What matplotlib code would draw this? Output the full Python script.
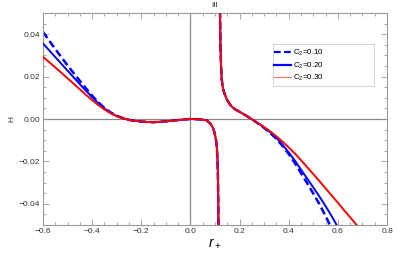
import matplotlib.pyplot as plt
from matplotlib.lines import Line2D
from matplotlib.patches import Rectangle
from matplotlib.ticker import MultipleLocator

plt.rcParams["font.family"] = ["Liberation Sans", "DejaVu Sans"]
plt.rcParams["mathtext.fontset"] = "custom"
plt.rcParams["mathtext.rm"] = "Liberation Sans"
plt.rcParams["mathtext.it"] = "Liberation Sans:italic"

# left branch (before the pole), shared x grid
x_left = [-0.600, -0.575, -0.550, -0.525, -0.500, -0.475, -0.450, -0.425, -0.400,
          -0.375, -0.350, -0.325, -0.300, -0.275,
          -0.250, -0.225, -0.200, -0.175, -0.150, -0.125, -0.100, -0.075, -0.050,
          -0.025, 0.000, 0.030, 0.050, 0.065, 0.080, 0.090, 0.095, 0.100, 0.105,
          0.108, 0.110, 0.1115, 0.1125, 0.1133, 0.114, 0.115]
mid_left = [-0.0004, -0.0009, -0.0012, -0.0014, -0.0015, -0.0013, -0.0011, -0.0008,
            -0.0005, -0.0002, 0.0, -0.0001, -0.0003, -0.0006, -0.0020, -0.0038,
            -0.0052, -0.0075, -0.0105, -0.0145, -0.0190, -0.0250, -0.0320, -0.0400,
            -0.0500, -0.0700]
h_left_010 = [0.0411, 0.0370, 0.0330, 0.0291, 0.0253, 0.0216, 0.0180, 0.0144, 0.0110,
              0.0079, 0.0052, 0.0031, 0.0015, 0.0004] + mid_left
h_left_020 = [0.0356, 0.0324, 0.0292, 0.0260, 0.0228, 0.0196, 0.0164, 0.0133, 0.0103,
              0.0075, 0.0050, 0.0029, 0.0014, 0.0004] + mid_left
h_left_030 = [0.0293, 0.0268, 0.0243, 0.0218, 0.0192, 0.0166, 0.0140, 0.0114, 0.0089,
              0.0066, 0.0045, 0.0027, 0.0013, 0.0003] + mid_left

# right branch (after the pole)
x_right = [0.119, 0.1205, 0.122, 0.124, 0.127, 0.132, 0.140, 0.150, 0.165, 0.180,
           0.200, 0.225, 0.250, 0.275, 0.300, 0.325, 0.350, 0.375, 0.400, 0.425,
           0.450, 0.475, 0.500, 0.525, 0.550, 0.575, 0.600, 0.625, 0.650, 0.675,
           0.700]
mid_right = [0.090, 0.050, 0.036, 0.027, 0.019, 0.0145, 0.0115, 0.0088, 0.0062,
             0.0047, 0.0034, 0.0017, -0.0001]
h_right_010 = mid_right + [-0.0021, -0.0042, -0.0066, -0.0094, -0.0127, -0.0165,
                           -0.0208, -0.0255, -0.0303, -0.0352, -0.0402, -0.0458,
                           -0.0518, -0.0580, -0.0645, -0.0710, -0.0780, -0.0850]
h_right_020 = mid_right + [-0.0020, -0.0040, -0.0063, -0.0089, -0.0122, -0.0158,
                           -0.0196, -0.0239, -0.0281, -0.0323, -0.0366, -0.0411,
                           -0.0459, -0.0510, -0.0562, -0.0615, -0.0668, -0.0720]
h_right_030 = mid_right + [-0.0019, -0.0038, -0.0059, -0.0082, -0.0107, -0.0134,
                           -0.0163, -0.0194, -0.0227, -0.0260, -0.0293, -0.0327,
                           -0.0361, -0.0395, -0.0430, -0.0464, -0.0498, -0.0533]

labels = ["C$_2$=0.10", "C$_2$=0.20", "C$_2$=0.30"]
blue = "#0000ff"
red = "#ff0000"

fig = plt.figure(figsize=(4.15, 2.6), dpi=100)
ax = fig.add_axes([0.1036, 0.1346, 0.829, 0.8154])

ax.axhline(0, color="#888888", lw=0.9, zorder=1)
ax.axvline(0, color="#888888", lw=0.9, zorder=1)

dash = (0, (3, 1.5))
ax.plot(x_left, h_left_010, color=blue, lw=1.8, ls=dash, zorder=2)
ax.plot(x_right, h_right_010, color=blue, lw=1.8, ls=dash, zorder=2)
ax.plot(x_left, h_left_020, color=blue, lw=1.4, zorder=3)
ax.plot(x_right, h_right_020, color=blue, lw=1.4, zorder=3)
ax.plot(x_left, h_left_030, color=red, lw=1.4, zorder=4)
ax.plot(x_right, h_right_030, color=red, lw=1.4, zorder=4)

ax.set_xlim(-0.6, 0.8)
ax.set_ylim(-0.05, 0.05)
ax.xaxis.set_major_locator(MultipleLocator(0.2))
ax.xaxis.set_minor_locator(MultipleLocator(0.05))
ax.yaxis.set_major_locator(MultipleLocator(0.02))
ax.yaxis.set_minor_locator(MultipleLocator(0.005))
ax.tick_params(which="both", direction="in", top=True, right=True,
               color="#999999", width=0.6, labelsize=6, labelcolor="#333333", pad=2)
ax.tick_params(which="major", length=4)
ax.tick_params(which="minor", length=2)
ax.set_xticks([-0.6, -0.4, -0.2, 0.0, 0.2, 0.4, 0.6, 0.8])
ax.set_xticklabels(["−0.6", "−0.4", "−0.2", "0.0", "0.2", "0.4", "0.6", "0.8"])
ax.set_yticks([-0.04, -0.02, 0.0, 0.02, 0.04])
ax.set_yticklabels(["−0.04", "−0.02", "0.00", "0.02", "0.04"])
for s in ax.spines.values():
    s.set_color("#999999")
    s.set_linewidth(0.8)

ax.set_xlabel("$r_+$", fontsize=10, labelpad=1)
ax.set_ylabel("H", fontsize=6, labelpad=2.5, color="#333333")
ax.set_title("III", fontsize=6, pad=4, color="#333333")

# legend box drawn separately (Mathematica-style, wide frame)
fig.patches.append(Rectangle((273 / 415, 1 - 86 / 260), 101 / 415, 42 / 260,
                             transform=fig.transFigure, facecolor="white",
                             edgecolor="#cccccc", lw=0.6, zorder=5))
handles = [Line2D([], [], color=blue, lw=1.6, ls=dash),
           Line2D([], [], color=blue, lw=1.6),
           Line2D([], [], color="#ff7070", lw=0.8)]
leg = fig.legend(handles, labels, loc="upper left",
                 bbox_to_anchor=(274 / 415, 1 - 48 / 260), frameon=False,
                 fontsize=5.8, handlelength=2.1, handletextpad=0.3,
                 labelspacing=0.3, borderpad=0.0, borderaxespad=0.0)
leg.set_zorder(6)

fig.savefig("out.png", dpi=100)
